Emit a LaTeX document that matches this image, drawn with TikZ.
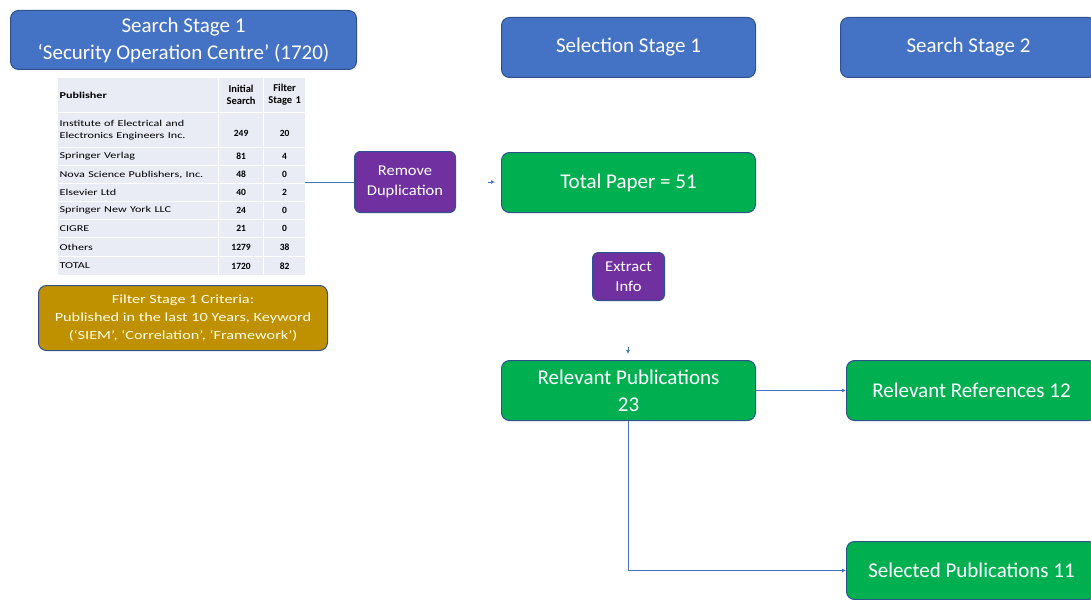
\documentclass[tikz,border=0pt]{standalone}
\usepackage{fontspec}
\setmainfont{Carlito}
\newfontfamily\tbfont[FakeStretch=1.35]{Carlito}
\newfontfamily\gdfont[FakeStretch=1.3]{Carlito}
\newfontfamily\pufont[FakeStretch=1.1]{Carlito}
\usetikzlibrary{arrows.meta}
\definecolor{cblue}{HTML}{4472C4}
\definecolor{cborder}{HTML}{2F528F}
\definecolor{cgreen}{HTML}{00B050}
\definecolor{cpurple}{HTML}{7030A0}
\definecolor{cgold}{HTML}{BF9000}
\definecolor{ctable}{HTML}{E9EBF5}
\definecolor{cline}{HTML}{4472C4}
\tikzset{
  box/.style={draw=cborder, line width=1pt, rounded corners=8pt, text=white, align=center, inner sep=0pt, font=\fontsize{21}{27}\selectfont},
  bluebox/.style={box, fill=cblue},
  greenbox/.style={box, fill=cgreen},
  purplebox/.style={box, fill=cpurple, font=\pufont\fontsize{15}{20}\selectfont, rounded corners=6pt},
  goldbox/.style={box, fill=cgold, text=white!90!yellow, font=\gdfont\fontsize{12.5}{18}\selectfont},
  cell/.style={draw=white, line width=1.2pt, fill=ctable, inner sep=0pt},
  conn/.style={draw=cline, line width=0.9pt},
  tip/.style={-{Latex[length=4pt,width=4pt]}, conn}
}
\newcommand{\tcell}[6]{% x1 y1 x2 y2 text align
  \node[cell, minimum width={#3-#1}, minimum height={#4-#2}, anchor=north west, text width={#3-#1-4}, align=#6] at (#1,#2) {#5};}
\begin{document}
\begin{tikzpicture}[x=1pt,y=-1pt]
\useasboundingbox (0,0) rectangle (1091,599);
% top boxes
\node[bluebox, minimum width=346, minimum height=59, anchor=north west] (s1) at (10,10) {Search Stage 1\\‘Security Operation Centre’ (1720)};
\node[bluebox, minimum width=254, minimum height=60, anchor=north west] (sel) at (501,17) {Selection Stage 1};
\node[bluebox, minimum width=256, minimum height=60, anchor=north west] (s2) at (840,17) {Search Stage 2};
% table
\node[inner sep=0pt, minimum width=248, minimum height=198, anchor=north west] (tbl) at (57,77) {};
\tcell{57}{77}{218}{112}{\tbfont\fontsize{9}{11}\selectfont\bfseries Publisher}{left}
\tcell{218}{77}{263}{112}{\fontsize{10.5}{13}\selectfont\bfseries Initial\\Search}{center}
\tcell{263}{77}{305}{112}{\fontsize{10.5}{13}\selectfont\bfseries Filter\\Stage 1}{center}
\tcell{57}{112}{218}{147}{\tbfont\fontsize{9}{17}\selectfont Institute of Electrical and\\Electronics Engineers Inc.}{left}
\tcell{218}{112}{263}{147}{\fontsize{9.5}{17}\selectfont\bfseries ~\\249}{center}
\tcell{263}{112}{305}{147}{\fontsize{9.5}{17}\selectfont\bfseries ~\\20}{center}
\foreach \ya/\yb/\na/\nb/\nc in {147/165/Springer Verlag/81/4, 165/183/{Nova Science Publishers, Inc.}/48/0, 183/201/Elsevier Ltd/40/2, 201/219/Springer New York LLC/24/0, 219/237/CIGRE/21/0, 237/256/Others/1279/38, 256/275/TOTAL/1720/82}{
  \tcell{57}{\ya}{218}{\yb}{\tbfont\fontsize{9}{11}\selectfont \na}{left}
  \tcell{218}{\ya}{263}{\yb}{\fontsize{9.5}{11}\selectfont\bfseries \nb}{center}
  \tcell{263}{\ya}{305}{\yb}{\fontsize{9.5}{11}\selectfont\bfseries \nc}{center}
}
% middle
\node[purplebox, minimum width=101, minimum height=61, anchor=north west] (rd) at (354,151) {Remove\\Duplication};
\node[greenbox, minimum width=254, minimum height=60, anchor=north west] (tp) at (501,152) {Total Paper = 51};
\node[purplebox, minimum width=72, minimum height=48, anchor=north west] (ei) at (592,252) {Extract\\Info};
\node[goldbox, minimum width=289, minimum height=65, anchor=north west] (fc) at (38,285) {Filter Stage 1 Criteria:\\Published in the last 10 Years, Keyword\\(‘SIEM’, ‘Correlation’, ‘Framework’)};
% bottom
\node[greenbox, minimum width=254, minimum height=60, anchor=north west] (rp) at (501,360) {Relevant Publications\\23};
\node[greenbox, minimum width=250, minimum height=60, anchor=north west] (rr) at (846,360) {Relevant References 12};
\node[greenbox, minimum width=250, minimum height=58, anchor=north west] (sp) at (846,541) {Selected Publications 11};
% connectors
\draw[conn] (rd.west -| tbl.east) -- (rd.west);
\coordinate (a1s) at (488,182);
\coordinate (a1e) at (495,182);
\draw[tip] (a1s) -- (a1e);
\coordinate (a2s) at (628,347);
\coordinate (a2e) at (628,354);
\draw[tip] (a2s) -- (a2e);
\draw[tip] (rp.east) -- (rr.west);
\draw[tip] (rp.south -| 628,0) |- (sp.west);
\end{tikzpicture}
\end{document}
